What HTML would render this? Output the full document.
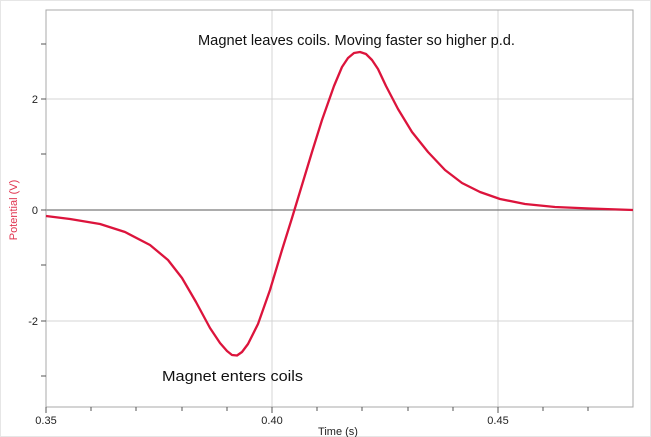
<!DOCTYPE html>
<html><head><meta charset="utf-8"><style>html,body{margin:0;padding:0;background:#fff;}svg{display:block}</style></head>
<body>
<svg width="651" height="437" viewBox="0 0 651 437" xmlns="http://www.w3.org/2000/svg" font-family="Liberation Sans, sans-serif">
<rect x="0" y="0" width="651" height="437" fill="#fff"/>
<rect x="0.5" y="0.5" width="650" height="436" fill="none" stroke="#e6e6e6"/>
<g stroke="#d4d4d4" stroke-width="1">
<line x1="272" y1="10" x2="272" y2="407"/>
<line x1="498" y1="10" x2="498" y2="407"/>
<line x1="46" y1="99" x2="633" y2="99"/>
<line x1="46" y1="321" x2="633" y2="321"/>
</g>
<line x1="46" y1="210" x2="633" y2="210" stroke="#7a7a7a" stroke-width="1.3"/>
<rect x="46" y="10" width="587" height="397" fill="none" stroke="#a8a8a8" stroke-width="1"/>
<g stroke="#555" stroke-width="1">
<line x1="41" y1="44" x2="46" y2="44"/><line x1="41" y1="99" x2="46" y2="99"/><line x1="41" y1="154" x2="46" y2="154"/><line x1="41" y1="210" x2="46" y2="210"/><line x1="41" y1="265" x2="46" y2="265"/><line x1="41" y1="321" x2="46" y2="321"/><line x1="41" y1="376" x2="46" y2="376"/>
<line x1="46" y1="407" x2="46" y2="413"/><line x1="91" y1="407" x2="91" y2="411"/><line x1="136" y1="407" x2="136" y2="411"/><line x1="182" y1="407" x2="182" y2="411"/><line x1="227" y1="407" x2="227" y2="411"/><line x1="272" y1="407" x2="272" y2="413"/><line x1="317" y1="407" x2="317" y2="411"/><line x1="362" y1="407" x2="362" y2="411"/><line x1="408" y1="407" x2="408" y2="411"/><line x1="453" y1="407" x2="453" y2="411"/><line x1="498" y1="407" x2="498" y2="413"/><line x1="543" y1="407" x2="543" y2="411"/><line x1="588" y1="407" x2="588" y2="411"/>
</g>
<g font-size="11" fill="#222">
<text x="38" y="103" text-anchor="end">2</text>
<text x="38" y="214" text-anchor="end">0</text>
<text x="38" y="325" text-anchor="end">-2</text>
<text x="46" y="424" text-anchor="middle">0.35</text>
<text x="272" y="424" text-anchor="middle">0.40</text>
<text x="498" y="424" text-anchor="middle">0.45</text>
<text x="338" y="435" text-anchor="middle">Time (s)</text>
</g>
<text x="17" y="210" font-size="11" fill="#e0344f" text-anchor="middle" transform="rotate(-90 17 210)">Potential (V)</text>
<path d="M46,216 L70,219 L100,224 L125,232 L150,245 L168,260 L182,278 L196,302 L210,328 L220,343 L227,351 L232,355 L237,355.5 L242,352 L248,344 L258,324 L270,290 L282,250 L292,218 L302,185 L312,152 L322,120 L334,86 L342,67 L348,58 L354,53 L360,52 L366,54 L372,60 L378,69 L386,86 L398,109 L412,132 L428,152 L445,170 L462,183 L480,192 L500,199 L525,204 L555,207 L590,208.5 L633,210" fill="none" stroke="#dc143c" stroke-width="2.3" stroke-linejoin="round"/>
<g font-size="15" fill="#111">
<text x="198" y="45" textLength="317" lengthAdjust="spacingAndGlyphs">Magnet leaves coils. Moving faster so higher p.d.</text>
<text x="162" y="381" textLength="141" lengthAdjust="spacingAndGlyphs">Magnet enters coils</text>
</g>
</svg>
</body></html>
